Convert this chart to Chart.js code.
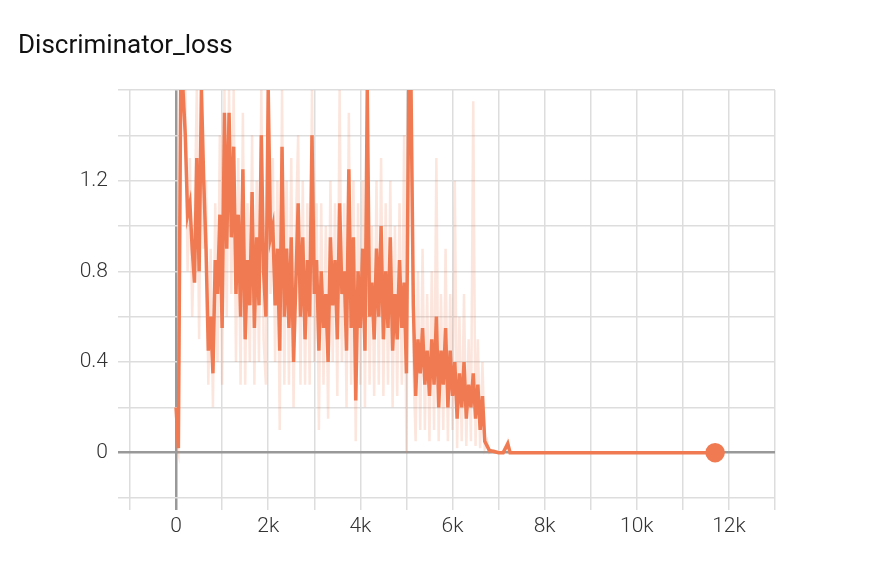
<!DOCTYPE html>
<html><head><meta charset="utf-8">
<script src="https://cdn.jsdelivr.net/npm/chart.js@4"></script>
<style>
html,body{margin:0;padding:0;background:#fff;}
#wrap{position:relative;width:888px;height:562px;}
#title{position:absolute;left:18px;top:29px;font:26px Roboto,sans-serif;color:#111;}
</style></head><body>
<div id="wrap"><div id="title">Discriminator_loss</div><canvas id="c" width="888" height="562"></canvas></div>
<script>
const steps = [0,50,100,150,200,250,300,350,400,450,500,550,600,650,700,750,800,850,900,950,1000,1050,1100,1150,1200,1250,1300,1350,1400,1450,1500,1550,1600,1650,1700,1750,1800,1850,1900,1950,2000,2050,2100,2150,2200,2250,2300,2350,2400,2450,2500,2550,2600,2650,2700,2750,2800,2850,2900,2950,3000,3050,3100,3150,3200,3250,3300,3350,3400,3450,3500,3550,3600,3650,3700,3750,3800,3850,3900,3950,4000,4050,4100,4150,4200,4250,4300,4350,4400,4450,4500,4550,4600,4650,4700,4750,4800,4850,4900,4950,5000,5050,5100,5150,5200,5250,5300,5350,5400,5450,5500,5550,5600,5650,5700,5750,5800,5850,5900,5950,6000,6050,6100,6150,6200,6250,6300,6350,6400,6450,6500,6550,6600,6650,6700,6750,6800,6900,7000,7100,7200,7250,7400,8000,9000,10000,11000,11700];
const smoothed = [0.2,0.02,1.6,1.6,1.4,1.05,1.1,0.9,0.75,1.3,0.8,1.6,1.2,0.9,0.45,0.6,0.35,0.85,0.7,1.05,0.55,1.5,0.9,1.5,0.95,1.35,0.7,1.05,0.6,1.25,0.5,0.85,0.65,1.15,0.55,0.95,0.65,1.4,0.8,0.6,1.6,0.95,1.0,0.65,0.9,0.45,1.35,0.6,0.9,0.55,0.95,0.4,0.75,1.1,0.6,0.95,0.5,0.85,0.6,1.4,0.7,0.85,0.45,0.8,0.55,0.7,0.4,0.95,0.65,0.85,0.5,1.1,0.7,0.8,0.45,1.25,0.55,0.95,0.23,0.8,0.55,0.9,0.45,1.6,0.6,0.75,0.5,0.9,0.6,1.0,0.5,0.8,0.55,0.95,0.45,0.7,0.5,0.85,0.55,0.75,0.35,1.6,1.6,0.65,0.25,0.5,0.35,0.55,0.3,0.45,0.25,0.5,0.3,0.6,0.2,0.45,0.3,0.55,0.2,0.45,0.25,0.4,0.15,0.35,0.2,0.4,0.15,0.3,0.2,0.35,0.15,0.3,0.1,0.25,0.05,0.03,0.01,0.005,0,0,0.04,0,0,0,0,0,0,0];
const raw = [0.05,0.0,1.6,1.6,1.6,0.8,1.3,0.6,1.0,1.6,0.5,1.6,0.9,1.2,0.3,0.9,0.2,1.1,0.4,1.4,0.3,1.6,0.6,1.6,0.7,1.6,0.4,1.3,0.3,1.5,0.3,1.1,0.4,1.4,0.3,1.2,0.4,1.6,0.5,0.3,1.6,0.7,1.3,0.4,1.2,0.1,1.6,0.3,1.2,0.3,1.3,0.2,1.0,1.4,0.3,1.2,0.3,1.1,0.3,1.6,0.4,1.1,0.1,1.1,0.3,1.0,0.15,1.2,0.4,1.1,0.25,1.6,0.4,1.1,0.2,1.5,0.3,1.2,0.05,1.1,0.3,1.2,0.2,1.6,0.3,1.0,0.25,1.2,0.3,1.3,0.25,1.1,0.3,1.2,0.2,1.0,0.25,1.1,0.3,1.4,0.0,1.6,1.6,0.4,0.05,0.8,0.1,0.9,0.1,0.7,0.05,0.8,0.1,1.3,0.05,0.7,0.1,0.9,0.05,0.7,0.1,1.2,0.02,0.6,0.05,0.7,0.03,0.5,0.05,1.55,0.03,0.5,0.02,0.4,0.02,0.05,0.0,0.01,0,0,0.05,0,0,0,0,0,0,0];
const yTicks = [0,0.4,0.8,1.2];
const xTickLabels = {0:'0',2000:'2k',4000:'4k',6000:'6k',8000:'8k',10000:'10k',12000:'12k'};
const C = '#f07b52';
const pts = a => steps.map((s,i)=>({x:s,y:a[i]}));
new Chart(document.getElementById('c'),{
  type:'line',
  data:{datasets:[
    {data:pts(smoothed),borderColor:C,borderWidth:3.5,pointRadius:steps.map((s,i)=>i===steps.length-1?8:0),pointBackgroundColor:C,pointBorderColor:C,tension:0,order:1},
    {data:pts(raw),borderColor:'rgba(240,123,82,0.2)',borderWidth:2.5,pointRadius:0,tension:0,order:2}
  ]},
  options:{
    responsive:false,animation:false,
    layout:{padding:{top:90,right:113,left:0,bottom:0}},
    plugins:{legend:{display:false},tooltip:{enabled:false}},
    scales:{
      x:{type:'linear',min:-1000,max:13000,
        afterFit:s=>{s.height=64;},
        ticks:{stepSize:1000,autoSkip:false,maxRotation:0,font:{family:'Roboto',size:21,weight:'300'},color:'#333',padding:4,
          callback:v=>xTickLabels[v]!==undefined?xTickLabels[v]:''},
        grid:{color:c=>c.tick&&c.tick.value===0?'#999':'#ddd',lineWidth:c=>c.tick&&c.tick.value===0?2.5:1.5,tickLength:12},
        border:{display:false}},
      y:{min:-0.2,max:1.6,
        afterFit:s=>{s.width=130;},
        ticks:{stepSize:0.2,autoSkip:false,font:{family:'Roboto',size:21,weight:'300'},color:'#333',padding:10,
          callback:v=>{const r=Math.round(v*10)/10;return yTicks.some(t=>Math.abs(t-r)<1e-6)?String(r):'';}},
        grid:{color:c=>c.tick&&Math.abs(c.tick.value)<1e-6?'#999':'#ddd',lineWidth:c=>c.tick&&Math.abs(c.tick.value)<1e-6?2.5:1.5,tickLength:12},
        border:{display:false}}
    }
  }
});
</script></body></html>
